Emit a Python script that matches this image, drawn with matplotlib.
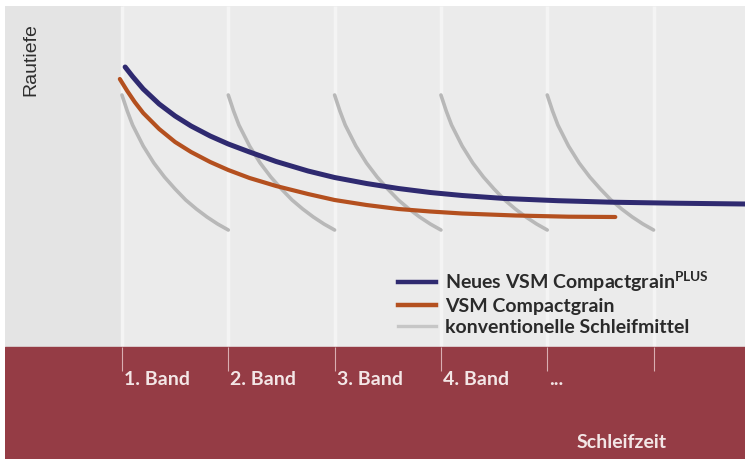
import matplotlib
matplotlib.use("Agg")
import matplotlib.pyplot as plt
from matplotlib.lines import Line2D

plt.rcParams['font.family'] = ['Lato', 'DejaVu Sans']
plt.rcParams['mathtext.fontset'] = 'custom'
plt.rcParams['mathtext.rm'] = 'Lato:bold'

# x in "Band" units (0 = start of 1. Band), y = Rautiefe (arbitrary units)
band_starts = [0, 1, 2, 3, 4, 5]
band_labels = ['1. Band', '2. Band', '3. Band', '4. Band', '...']

plus_x = [0.03, 0.10, 0.20, 0.35, 0.50, 0.65, 0.83, 1.0, 1.2, 1.45, 1.75, 2.0,
          2.3, 2.6, 2.9, 3.2, 3.6, 4.1, 4.6, 5.2, 5.86]
plus_y = [280, 270.5, 258, 243, 231, 221, 211, 203, 195, 185.5, 176, 169.5,
          163.5, 158.5, 154.5, 151.5, 148.5, 146.3, 144.8, 143.8, 143]

cg_x = [-0.02, 0.05, 0.12, 0.20, 0.35, 0.50, 0.65, 0.83, 1.0, 1.2, 1.45, 1.75,
        2.0, 2.3, 2.6, 2.9, 3.2, 3.7, 4.2, 4.64]
cg_y = [268, 256, 245, 234, 218, 205, 195, 185, 177, 169, 161, 153,
        147, 142, 138, 135.5, 133.5, 131.5, 130.3, 130]

# one conventional belt: offset from its start band, and roughness
conv_dx = [0.0, 0.05, 0.1, 0.2, 0.3, 0.4, 0.5, 0.6, 0.7, 0.8, 0.9, 1.0]
conv_y = [252, 236, 222, 201, 184, 170, 158, 147, 138, 130, 123, 117]
conv_belts = [0, 1, 2, 3, 4]

c_plus = '#2f2a70'
c_cg = '#b4501f'
c_conv = '#b8b8b8'
c_red = '#953c45'
c_txt = '#f3e6e6'

fig = plt.figure(figsize=(7.45, 4.59), dpi=100)
ax = fig.add_axes([5 / 745, 0, 740 / 745, 453 / 459])
ax.set_xlim(-1.10, 5.86)
ax.set_ylim(-112, 341)
ax.set_facecolor('#ebebeb')
for s in ax.spines.values():
    s.set_visible(False)
ax.set_xticks([])
ax.set_yticks([])

ax.axvspan(-1.10, 0, color='#e4e4e4', zorder=0)
ax.axhspan(-112, 0, color=c_red, zorder=1)
ax.vlines(band_starts, 0, 341, color='#f4f4f4', lw=2.5, zorder=0.5)
ax.vlines(band_starts, -24, 0, color='#d9aeb2', lw=0.8, zorder=2)

for b in conv_belts:
    ax.plot([b + d for d in conv_dx], conv_y, color=c_conv, lw=2.6,
            solid_capstyle='round', solid_joinstyle='round', zorder=3)
ax.plot(cg_x, cg_y, color=c_cg, lw=3.0, solid_capstyle='round',
        solid_joinstyle='round', zorder=4)
ax.plot(plus_x, plus_y, color=c_plus, lw=3.6, solid_capstyle='round',
        solid_joinstyle='round', zorder=5)

for b, lab in zip(band_starts, band_labels):
    ax.text(b + 0.02, -38, lab, color=c_txt, fontsize=14, fontweight='bold',
            ha='left', va='baseline', zorder=6)
ax.text(4.28, -101, 'Schleifzeit', color=c_txt, fontsize=14, fontweight='bold',
        ha='left', va='baseline', zorder=6)
ax.text(-0.856, 287, 'Rautiefe', color='#2e2e2e', fontsize=14, rotation=90,
        family='Liberation Sans', ha='center', va='center', zorder=6)

handles = [Line2D([], [], color=c_plus, lw=3.2),
           Line2D([], [], color=c_cg, lw=3.2),
           Line2D([], [], color='#c6c6c6', lw=2.4)]
labels = [r'Neues VSM Compactgrain$^{\mathrm{PLUS}}$', 'VSM Compactgrain',
          'konventionelle Schleifmittel']
leg = ax.legend(handles, labels, loc='upper left', frameon=False,
                bbox_to_anchor=(398 / 745, 1 - 269 / 459), bbox_transform=fig.transFigure,
                borderpad=0, borderaxespad=0, handlelength=1.95, handletextpad=0.45,
                labelspacing=0.2, prop={'size': 14, 'weight': 'bold'})
for t in leg.get_texts():
    t.set_color('#2a2a2a')

fig.savefig('out.png', dpi=100, facecolor='white')
